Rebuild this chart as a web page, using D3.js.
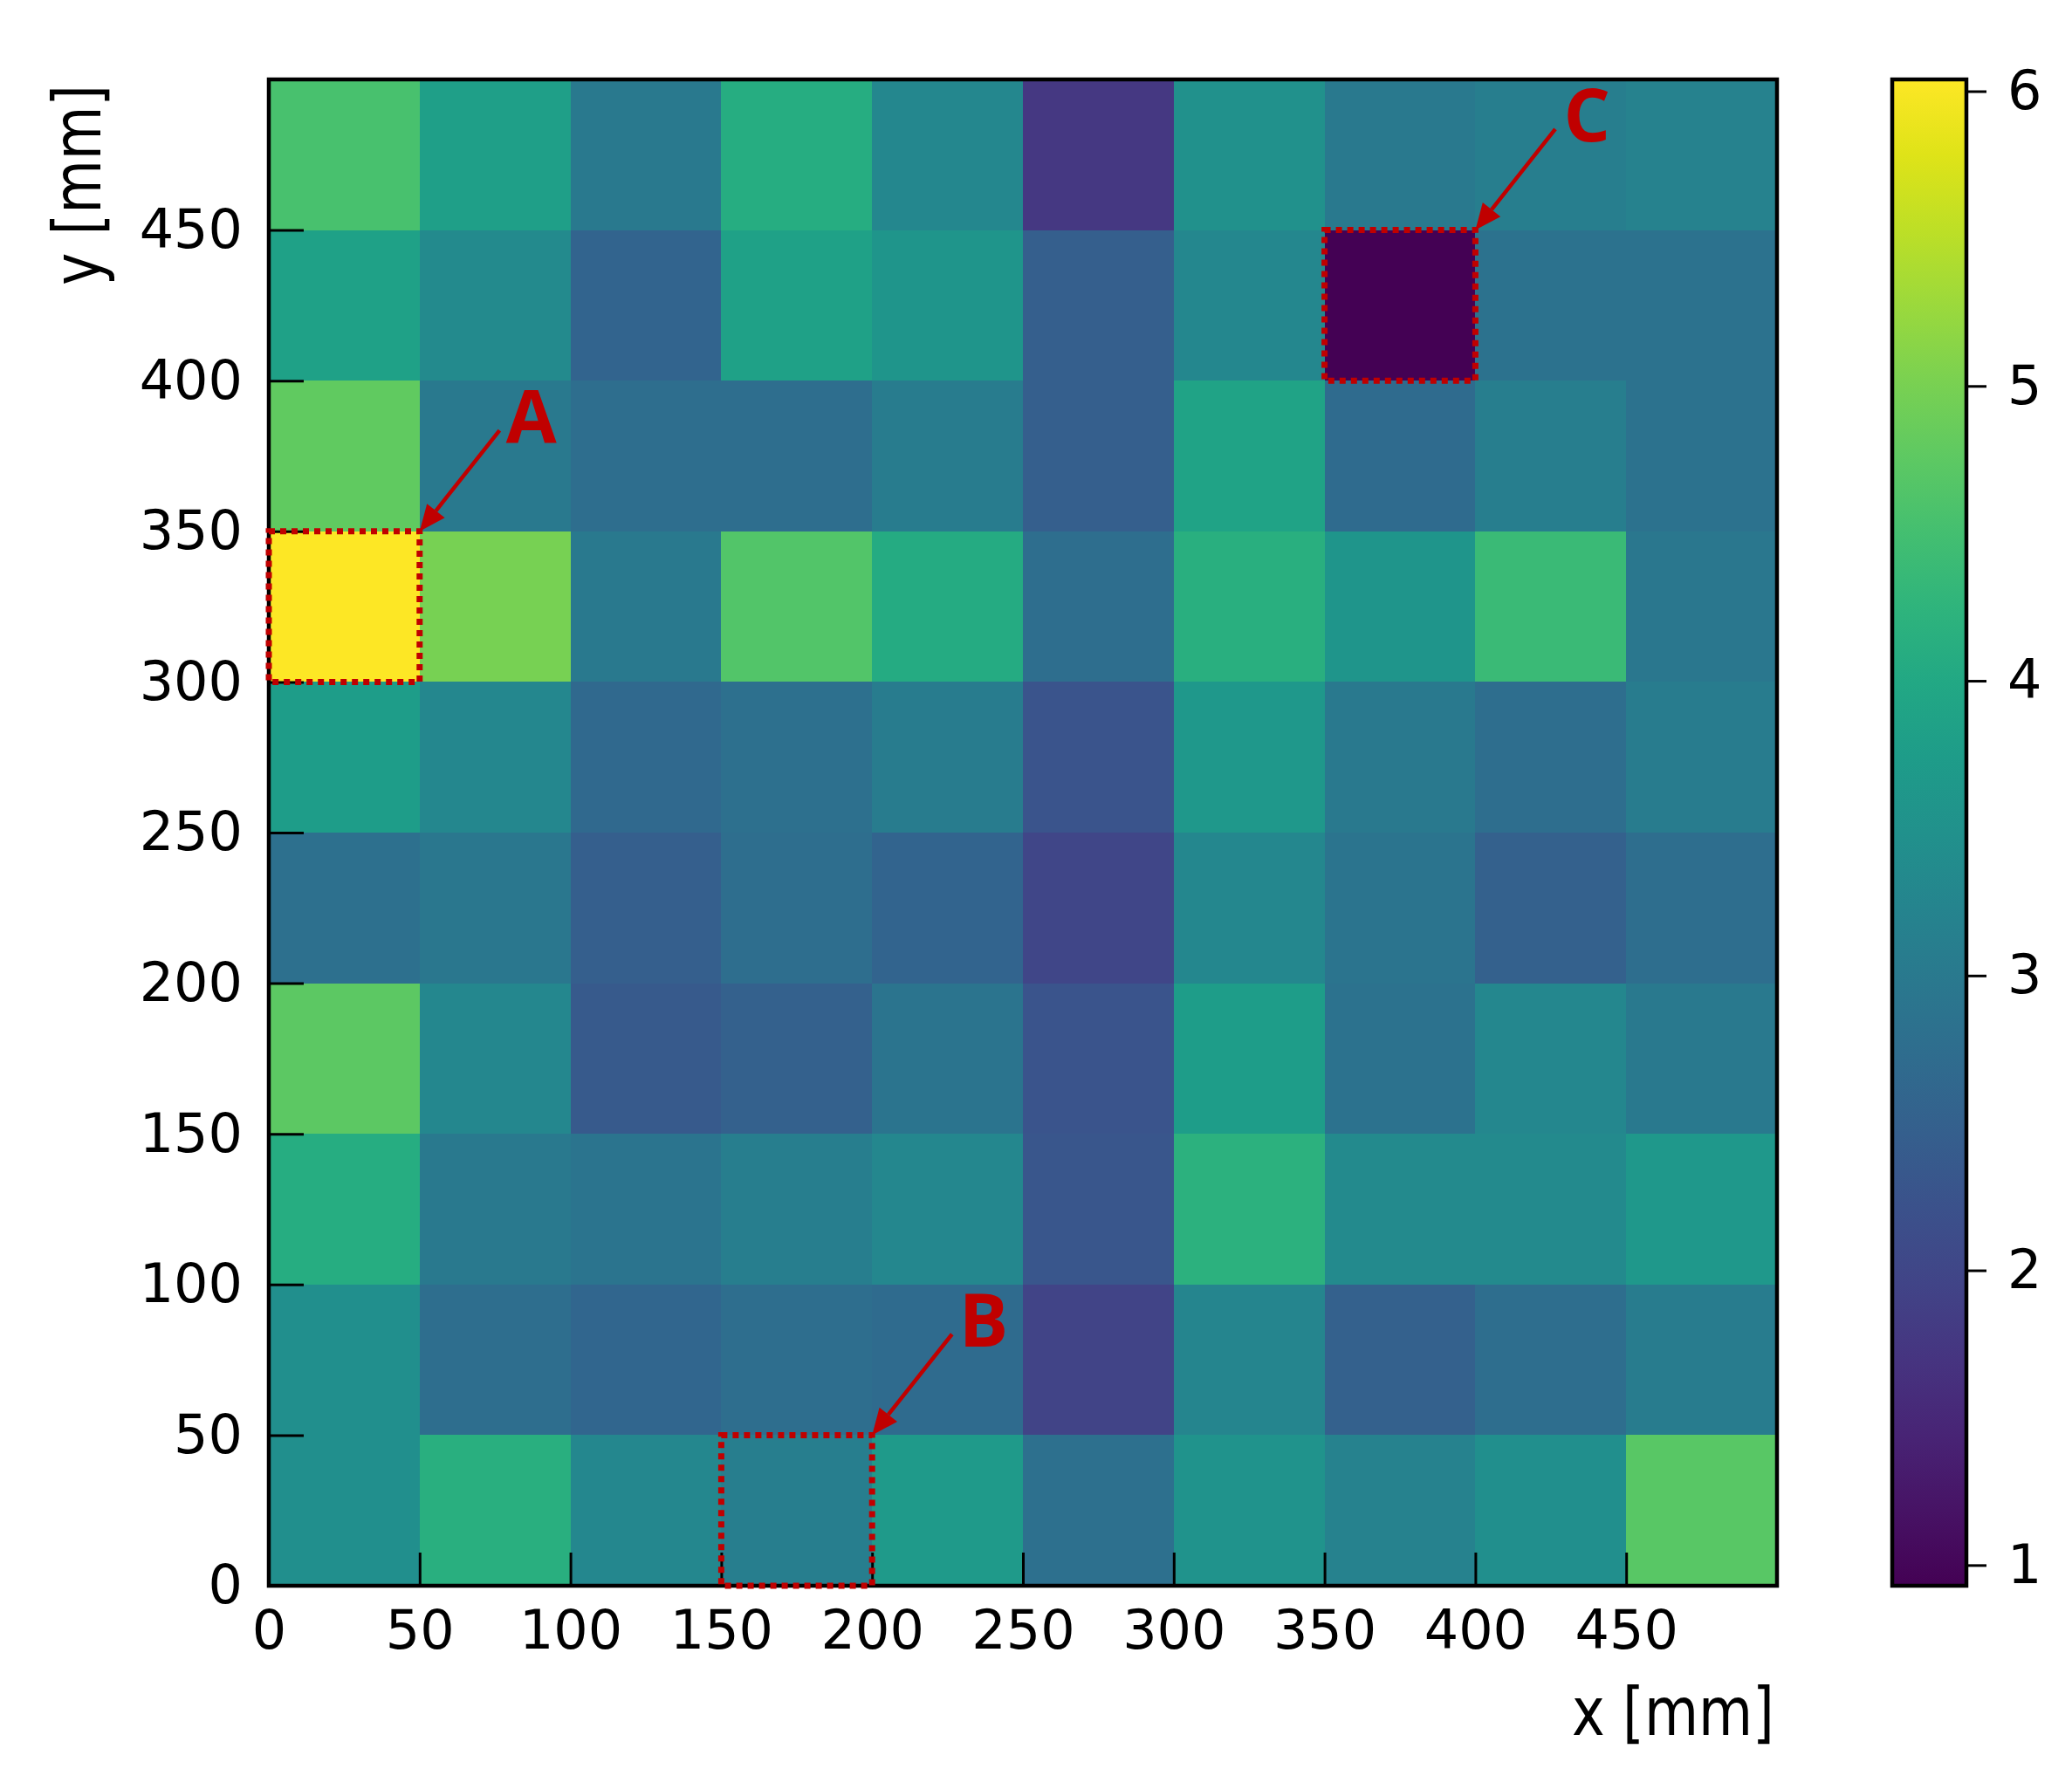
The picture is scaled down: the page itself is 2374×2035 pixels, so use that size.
<!DOCTYPE html>
<html lang="en">
<head>
<meta charset="utf-8">
<title>Cell map</title>
<script src="https://d3js.org/d3.v7.min.js"></script>
<style>
  body { margin: 0; background: #fff; }
  svg { display: block; }
  .tick text { font-family: "DejaVu Sans", sans-serif; font-size: 62px; fill: #000; }
  .tick line { stroke: #000; stroke-width: 3; }
  .axis-label { font-family: "DejaVu Sans", sans-serif; font-size: 76px; fill: #000; }
  .note { font-family: "Open Sans", "Liberation Sans", sans-serif; font-weight: 700; font-size: 84px; fill: #c00000; }
</style>
</head>
<body>
<svg></svg>
<script>
// cell centres are every 50 mm
// rows go from the top (y = 450..500) down to the bottom (y = 0..50)
const xStarts = [0, 50, 100, 150, 200, 250, 300, 350, 400, 450];
const yStarts = [450, 400, 350, 300, 250, 200, 150, 100, 50, 0];
const row450 = [4.55, 3.8, 3.0, 4.1, 3.3, 1.75, 3.5, 3.0, 3.1, 3.2];
const row400 = [3.85, 3.35, 2.55, 3.85, 3.6, 2.45, 3.3, 0.93, 2.85, 2.85];
const row350 = [4.8, 3.0, 2.75, 2.75, 3.05, 2.45, 3.9, 2.7, 3.1, 2.85];
const row300 = [6.04, 5.0, 3.0, 4.65, 4.05, 2.75, 4.15, 3.6, 4.4, 2.95];
const row250 = [3.75, 3.3, 2.65, 2.8, 3.05, 2.25, 3.65, 3.0, 2.75, 3.05];
const row200 = [2.8, 2.95, 2.45, 2.75, 2.55, 2.0, 3.3, 2.9, 2.5, 2.75];
const row150 = [4.75, 3.3, 2.35, 2.5, 2.9, 2.25, 3.75, 2.85, 3.3, 3.0];
const row100 = [4.1, 3.0, 2.9, 3.1, 3.3, 2.3, 4.2, 3.35, 3.35, 3.65];
const row50  = [3.45, 2.75, 2.6, 2.75, 2.7, 1.95, 3.25, 2.5, 2.75, 3.05];
const row0   = [3.45, 4.15, 3.3, 3.1, 3.7, 2.8, 3.55, 3.2, 3.45, 4.72];
const rows = [row450, row400, row350, row300, row250, row200, row150, row100, row50, row0];

const axisTicks = [0, 50, 100, 150, 200, 250, 300, 350, 400, 450];
const colorTicks = [1, 2, 3, 4, 5, 6];
const colorRange = [0.93, 6.04];

// marked cells (lower left corner in mm) and their letters
const marked = [
  {label: "A", x0: 0,   y0: 300},
  {label: "B", x0: 150, y0: 0},
  {label: "C", x0: 350, y0: 400}
];
const cellSize = 50;
const textOffset = [37, 29.5];   // mm from the box corner to the letter
const tailOffset = [26.5, 33.5]; // mm from the box corner to the arrow tail

let width = 2374, height = 2035;
let svg = d3.select("svg").attr("width", width).attr("height", height)
  .attr("viewBox", "0 0 " + width + " " + height);

let x = d3.scaleLinear().domain([0, 500]).range([308, 2036]);
let y = d3.scaleLinear().domain([0, 500]).range([1817, 91]);
let color = d3.scaleSequential(d3.interpolateViridis).domain(colorRange);

// flatten rows into cells
let cells = [];
rows.forEach((r, i) => r.forEach((v, j) => cells.push({x0: xStarts[j], y0: yStarts[i], v: v})));

svg.append("g").selectAll("rect")
  .data(cells)
  .enter()
  .append("rect")
  .attr("x", d => x(d.x0))
  .attr("y", d => y(d.y0 + cellSize))
  .attr("width", x(cellSize) - x(0) + 0.6)
  .attr("height", y(0) - y(cellSize) + 0.6)
  .attr("fill", d => color(d.v))
  .attr("shape-rendering", "crispEdges");

// axes, ticks pointing inward
let xAxis = d3.axisBottom(x).tickValues(axisTicks).tickSizeInner(-38).tickSizeOuter(0).tickPadding(28);
let yAxis = d3.axisLeft(y).tickValues(axisTicks).tickSizeInner(-40).tickSizeOuter(0).tickPadding(30);

svg.append("g").attr("transform", "translate(0," + y(0) + ")").call(xAxis)
  .call(g => g.select(".domain").remove());
svg.append("g").attr("transform", "translate(" + x(0) + ",0)").call(yAxis)
  .call(g => g.select(".domain").remove());

svg.append("rect")
  .attr("x", x(0)).attr("y", y(500))
  .attr("width", x(500) - x(0)).attr("height", y(0) - y(500))
  .attr("fill", "none").attr("stroke", "#000").attr("stroke-width", 4.5);

svg.append("text").attr("class", "axis-label")
  .attr("x", x(500) - 3).attr("y", 1988)
  .attr("text-anchor", "end")
  .attr("textLength", 232).attr("lengthAdjust", "spacingAndGlyphs")
  .text("x [mm]");

svg.append("text").attr("class", "axis-label")
  .attr("transform", "translate(115," + (y(500) + 6) + ") rotate(-90)")
  .attr("text-anchor", "end")
  .attr("textLength", 230).attr("lengthAdjust", "spacingAndGlyphs")
  .text("y [mm]");

// colour bar
let cb = {x: 2168, w: 85};
let cbScale = d3.scaleLinear().domain(colorRange).range([y(0), y(500)]);
let grad = svg.append("defs").append("linearGradient")
  .attr("id", "viridis").attr("x1", 0).attr("y1", 1).attr("x2", 0).attr("y2", 0);
d3.range(0, 1.0001, 0.05).forEach(t => {
  grad.append("stop").attr("offset", t)
    .attr("stop-color", color(colorRange[0] + t * (colorRange[1] - colorRange[0])));
});
svg.append("rect")
  .attr("x", cb.x).attr("y", y(500))
  .attr("width", cb.w).attr("height", y(0) - y(500))
  .attr("fill", "url(#viridis)")
  .attr("stroke", "#000").attr("stroke-width", 4.5);

svg.append("g").attr("transform", "translate(" + (cb.x + cb.w) + ",0)")
  .call(d3.axisRight(cbScale).tickValues(colorTicks).tickFormat(d3.format("d"))
    .tickSizeInner(23).tickSizeOuter(0).tickPadding(24))
  .call(g => g.select(".domain").remove());

// marked boxes with arrows and letters
let red = "#c00000";
let notes = svg.append("g");
marked.forEach(m => {
  notes.append("rect")
    .attr("x", x(m.x0)).attr("y", y(m.y0 + cellSize))
    .attr("width", x(cellSize) - x(0)).attr("height", y(0) - y(cellSize))
    .attr("fill", "none").attr("stroke", red)
    .attr("stroke-width", 7).attr("stroke-dasharray", "7,6");

  let tipX = x(m.x0 + cellSize), tipY = y(m.y0 + cellSize);
  let tailX = x(m.x0 + cellSize + tailOffset[0]), tailY = y(m.y0 + cellSize + tailOffset[1]);
  let dx = tipX - tailX, dy = tipY - tailY;
  let len = Math.sqrt(dx * dx + dy * dy);
  let ux = dx / len, uy = dy / len;
  let headLen = 30, headHalf = 13;
  let baseX = tipX - ux * headLen, baseY = tipY - uy * headLen;

  notes.append("line")
    .attr("x1", tailX).attr("y1", tailY)
    .attr("x2", baseX).attr("y2", baseY)
    .attr("stroke", red).attr("stroke-width", 4.5);
  notes.append("polygon")
    .attr("points", [
      [tipX, tipY],
      [baseX - uy * headHalf, baseY + ux * headHalf],
      [baseX + uy * headHalf, baseY - ux * headHalf]
    ].map(p => p.join(",")).join(" "))
    .attr("fill", red);

  notes.append("text").attr("class", "note")
    .attr("x", x(m.x0 + cellSize + textOffset[0]))
    .attr("y", y(m.y0 + cellSize + textOffset[1]))
    .attr("text-anchor", "middle")
    .text(m.label);
});
</script>
</body>
</html>
